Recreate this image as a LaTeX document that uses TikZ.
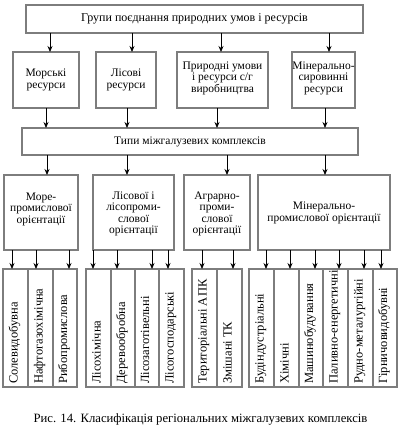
\documentclass[tikz,border=0pt]{standalone}
\usepackage{fontspec}
\setmainfont{Liberation Serif}
\usetikzlibrary{arrows.meta}
\begin{document}
\begin{tikzpicture}[x=1pt,y=-1pt,
  box/.style={draw=boxgray,line width=1.5pt},
  arr/.style={-{Stealth[length=6pt,width=5pt]},line width=0.8pt,black},
  txt/.style={font=\fontsize{11.5}{11.5}\selectfont,align=center,inner sep=0pt},
  vtxt/.style={font=\fontsize{12.5}{12.5}\selectfont,rotate=90,anchor=base west,inner sep=0pt}]
\definecolor{boxgray}{RGB}{125,125,125}
\useasboundingbox (0,0) rectangle (403,427);
% top
\draw[box] (26,5) rectangle (363,33);
\node[txt,font=\fontsize{12}{12}\selectfont] (top) at (194.5,19) {Групи поєднання природних умов і ресурсів};
\coordinate (t1) at (50,33); \coordinate (t2) at (132,33); \coordinate (t3) at (221,33); \coordinate (t4) at (329,33);
% row 2
\draw[box] (13,52) rectangle (79,108);
\draw[box] (96,52) rectangle (156,108);
\draw[box] (177,52) rectangle (268,108);
\draw[box] (292,52) rectangle (355,108);
\node[txt] (r21) at (46,80) {Морські\\ресурси};
\node[txt] (r22) at (126,80) {Лісові\\ресурси};
\node[txt] (r23) at (222.5,78) {Природні умови\\і ресурси с/г\\виробництва};
\node[txt] (r24) at (323.5,78) {Мінерально-\\сировинні\\ресурси};
\coordinate (a1) at (50,52); \coordinate (a2) at (132,52); \coordinate (a3) at (221,52); \coordinate (a4) at (329,52);
\foreach \i in {1,...,4} \draw[arr] (t\i) -- (a\i);
% types
\draw[box] (22,128) rectangle (358,155);
\node[txt] (types) at (190,141.5) {Типи міжгалузевих комплексів};
\coordinate (b1) at (46,108); \coordinate (b2) at (127,108); \coordinate (b3) at (217,108); \coordinate (b4) at (325,108);
\coordinate (c1) at (46,128); \coordinate (c2) at (127,128); \coordinate (c3) at (217,128); \coordinate (c4) at (325,128);
\foreach \i in {1,...,4} \draw[arr] (b\i) -- (c\i);
% row 3
\draw[box] (4,175) rectangle (78,250);
\draw[box] (93,175) rectangle (174,250);
\draw[box] (184,175) rectangle (250,250);
\draw[box] (258,175) rectangle (390,250);
\node[txt] (r31) at (41,209) {Море-\\промислової\\орієнтації};
\node[txt] (r32) at (133.5,214) {Лісової і\\лісопроми-\\слової\\орієнтації};
\node[txt] (r33) at (217,214) {Аграрно-\\проми-\\слової\\орієнтації};
\node[txt] (r34) at (324,213) {Мінерально-\\промислової орієнтації};
\coordinate (d1) at (47,155); \coordinate (d2) at (127,155); \coordinate (d3) at (227,155); \coordinate (d4) at (325,155);
\coordinate (e1) at (47,175); \coordinate (e2) at (127,175); \coordinate (e3) at (227,175); \coordinate (e4) at (325,175);
\foreach \i in {1,...,4} \draw[arr] (d\i) -- (e\i);
% row 4 groups
\draw[box] (3,269) rectangle (77,387);
\draw[box] (28,269) -- (28,387) (53,269) -- (53,387);
\draw[box] (86,269) rectangle (184,387);
\draw[box] (111,269) -- (111,387) (135,269) -- (135,387) (159,269) -- (159,387);
\draw[box] (192,269) rectangle (242,387);
\draw[box] (217,269) -- (217,387);
\draw[box] (249,269) rectangle (397,387);
\foreach \x in {274,299,323,348,373} \draw[box] (\x,269) -- (\x,387);
% arrows to row 4
\foreach \x in {12,36,69,93,117,152,168,202,233,266,290,315,339,364,381}
  \draw[arr] (\x,250) coordinate (u) -- (\x,269) coordinate (v);
% vertical labels
\foreach \x/\t [count=\k] in {
  17.5/Солевидобувна, 42.5/Нафтогазохімічна, 67/Рибопромислова,
  100.5/Лісохімічна, 125/Деревообробна, 149/Лісозаготівельні, 173.5/Лісогосподарські,
  206.5/Територіальні АПК, 231.5/Змішані ТК,
  263.5/Будіндустріальні, 288.5/Хімічні, 313/Машинобудування, 337.5/Паливно-енергетичні, 362.5/Рудно-металургійні, 387/Гірничовидобувні}
  \node[vtxt] (v\k) at (\x,384) {\t};
% caption
\node[font=\fontsize{12.7}{12.7}\selectfont,inner sep=0pt] (cap) at (200.5,419) {Рис. 14. Класифікація регіональних міжгалузевих комплексів};
\end{tikzpicture}
\end{document}
